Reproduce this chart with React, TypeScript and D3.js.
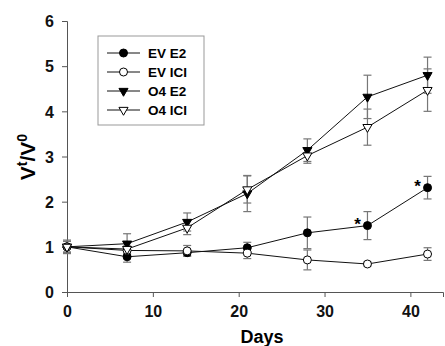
import React, { useEffect, useRef } from 'react';
import * as d3 from 'd3';

const days = [0, 7, 14, 21, 28, 35, 42];

const evE2 = [1.0, 0.78, 0.87, 0.98, 1.31, 1.47, 2.31];
const evE2Err = [0.15, 0.12, 0.07, 0.12, 0.35, 0.31, 0.25];
const evIci = [1.0, 0.92, 0.91, 0.86, 0.71, 0.62, 0.84];
const evIciErr = [0.12, 0.1, 0.12, 0.12, 0.22, 0.04, 0.14];
const o4E2 = [1.0, 1.07, 1.55, 2.18, 3.14, 4.32, 4.8];
const o4E2Err = [0.12, 0.22, 0.2, 0.4, 0.25, 0.48, 0.4];
const o4Ici = [1.0, 0.95, 1.42, 2.27, 3.02, 3.65, 4.47];
const o4IciErr = [0.12, 0.15, 0.15, 0.3, 0.17, 0.4, 0.47];

const seriesNames = ['EV E2', 'EV ICI', 'O4 E2', 'O4 ICI'];
const starredDays = [35, 42];

const App = () => {
  const svgRef = useRef<SVGSVGElement>(null);

  useEffect(() => {
    document.body.style.margin = '0';
    const svg = d3.select(svgRef.current);
    svg.selectAll('*').remove();

    const width = 445, height = 346;
    const margin = { top: 21, right: 2, bottom: 54, left: 67 };
    const x = d3.scaleLinear().domain([0, 43.8]).range([margin.left, width - margin.right]);
    const y = d3.scaleLinear().domain([0, 6]).range([height - margin.bottom, margin.top]);
    const font = '"Liberation Sans", Arial, sans-serif';

    const series = [
      { name: seriesNames[0], vals: evE2, err: evE2Err, shape: 'circle', fill: '#000' },
      { name: seriesNames[1], vals: evIci, err: evIciErr, shape: 'circle', fill: '#fff' },
      { name: seriesNames[2], vals: o4E2, err: o4E2Err, shape: 'tri', fill: '#000' },
      { name: seriesNames[3], vals: o4Ici, err: o4IciErr, shape: 'tri', fill: '#fff' },
    ];

    // axes
    const xAxis = svg.append('g').attr('transform', `translate(0,${y(0)})`)
      .call(d3.axisBottom(x).tickValues([0, 10, 20, 30, 40]).tickSize(5).tickPadding(9));
    const yAxis = svg.append('g').attr('transform', `translate(${x(0)},0)`)
      .call(d3.axisLeft(y).ticks(6).tickSize(5).tickPadding(8));
    [xAxis, yAxis].forEach(a => {
      a.select('.domain').attr('stroke', '#555');
      a.selectAll('line').attr('stroke', '#555');
      a.selectAll('text').attr('font-family', font).attr('font-weight', 'bold')
        .attr('font-size', 16).attr('fill', '#111');
    });
    yAxis.selectAll('text').attr('dy', '0.36em');

    svg.append('text').attr('x', 262).attr('y', 343).attr('text-anchor', 'middle')
      .attr('font-family', font).attr('font-weight', 'bold').attr('font-size', 18).text('Days');

    const yt = svg.append('text').attr('transform', 'translate(35,157) rotate(-90)')
      .attr('text-anchor', 'middle').attr('font-family', font).attr('font-weight', 'bold').attr('font-size', 21);
    yt.append('tspan').text('V');
    yt.append('tspan').attr('baseline-shift', 'super').attr('font-size', 14).text('t');
    yt.append('tspan').text('/V');
    yt.append('tspan').attr('baseline-shift', 'super').attr('font-size', 14).text('0');

    const tri = d3.symbol().type(d3.symbolTriangle).size(36);
    const drawMarker = (g, s, cx, cy) => {
      if (s.shape === 'circle') {
        g.append('circle').attr('cx', cx).attr('cy', cy).attr('r', 4)
          .attr('fill', s.fill).attr('stroke', '#000').attr('stroke-width', 1);
      } else {
        g.append('path').attr('d', tri()).attr('transform', `translate(${cx},${cy}) rotate(180)`)
          .attr('fill', s.fill).attr('stroke', '#000').attr('stroke-width', 1);
      }
    };

    // error bars
    series.forEach(s => {
      const g = svg.append('g').attr('stroke', '#777').attr('stroke-width', 1.2);
      days.forEach((d, i) => {
        const cx = x(d), lo = y(s.vals[i] - s.err[i]), hi = y(s.vals[i] + s.err[i]);
        g.append('line').attr('x1', cx).attr('x2', cx).attr('y1', lo).attr('y2', hi);
        g.append('line').attr('x1', cx - 4).attr('x2', cx + 4).attr('y1', lo).attr('y2', lo);
        g.append('line').attr('x1', cx - 4).attr('x2', cx + 4).attr('y1', hi).attr('y2', hi);
      });
    });

    // lines and markers
    const line = d3.line<number>().x((_, i) => x(days[i])).y(v => y(v));
    series.forEach(s => {
      svg.append('path').datum(s.vals).attr('d', line).attr('fill', 'none')
        .attr('stroke', '#111').attr('stroke-width', 1);
    });
    series.forEach(s => {
      const g = svg.append('g');
      days.forEach((d, i) => drawMarker(g, s, x(d), y(s.vals[i])));
    });

    // significance stars
    starredDays.forEach(d => {
      const i = days.indexOf(d);
      svg.append('text').attr('x', x(d) - 10).attr('y', y(evE2[i]) + 4)
        .attr('text-anchor', 'middle').attr('font-family', font).attr('font-weight', 'bold')
        .attr('font-size', 17).text('*');
    });

    // legend
    const lg = svg.append('g').attr('transform', 'translate(98,36)');
    lg.append('rect').attr('width', 106).attr('height', 89).attr('fill', '#fff')
      .attr('stroke', '#999').attr('stroke-width', 1);
    series.forEach((s, i) => {
      const cy = 17 + i * 19;
      lg.append('line').attr('x1', 9).attr('x2', 42).attr('y1', cy).attr('y2', cy)
        .attr('stroke', '#111').attr('stroke-width', 1);
      drawMarker(lg, s, 25.5, cy);
      lg.append('text').attr('x', 50).attr('y', cy).attr('dy', '0.36em')
        .attr('font-family', font).attr('font-weight', 'bold').attr('font-size', 13.5).text(s.name);
    });
  }, []);

  return <svg ref={svgRef} width={445} height={346} style={{ display: 'block' }} />;
};

export default App;
